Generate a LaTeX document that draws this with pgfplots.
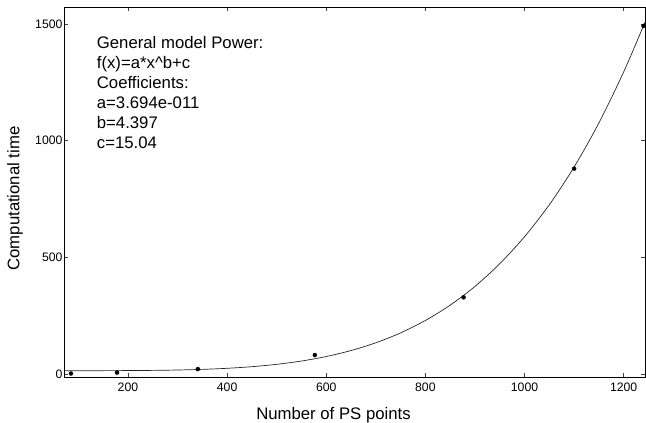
\documentclass[border=0pt]{standalone}
\usepackage{fontspec}
\setmainfont{Liberation Sans}
\usepackage{pgfplots}
\pgfplotsset{compat=1.18}
\begin{document}
\begin{tikzpicture}
\path[use as bounding box] (-64.5bp,-46bp) rectangle (581.5bp,377bp);
\begin{axis}[
  at={(0,0)}, anchor=south west,
  scale only axis, width=580.5bp, height=370bp,
  xmin=72, xmax=1243, ymin=-12, ymax=1572,
  xtick={200,400,600,800,1000,1200}, ytick={0,500,1000,1500},
  tick align=inside, xtick pos=both, ytick pos=both,
  major tick length=4bp,
  axis line style={black, line width=0.8bp},
  tick style={black!75, line width=0.6bp},
  /pgf/number format/assume math mode=true,
  /pgf/number format/1000 sep={},
  ticklabel style={font=\fontsize{12.3}{14}\selectfont},
  yticklabel style={xshift=1.5bp},
  xticklabel style={yshift=-2bp},
  clip=false,
]
\addplot[smooth, black!85, line width=0.7bp] coordinates {
(72,15.05)(100,15.06)(150,15.18)(200,15.52)(250,16.33)(300,17.92)(350,20.71)
(400,25.24)(450,32.16)(500,42.26)(550,56.4)(600,75.69)(650,101.3)(700,134.5)
(750,176.9)(800,230.0)(850,295.6)(900,375.9)(950,472.9)(1000,588.7)
(1050,725.6)(1100,887.1)(1150,1075.6)(1200,1294.3)(1243,1507)};
\addplot[only marks, mark=*, mark size=2bp, black] coordinates {
(85,3)(178,7)(341,22)(577,82)(877,329)(1100,880)(1240,1491)};
\end{axis}
\node[anchor=base, font=\fontsize{16.8}{20}\selectfont] at (269bp,-42bp) {Number of PS points};
\node[anchor=base, rotate=90, font=\fontsize{16.8}{20}\selectfont] at (-45bp,178.5bp) {Computational time};
\begin{scope}[every node/.style={anchor=base west, inner sep=0pt, font=\fontsize{16.8}{20}\selectfont}]
\node at (32.2bp,328bp) {General model Power:};
\node at (32.2bp,308bp) {f(x)=a*x\^{}b+c};
\node at (32.2bp,288bp) {Coefficients:};
\node at (32.2bp,268bp) {a=3.694e-011};
\node at (32.2bp,248bp) {b=4.397};
\node at (32.2bp,228bp) {c=15.04};
\end{scope}
\end{tikzpicture}
\end{document}
